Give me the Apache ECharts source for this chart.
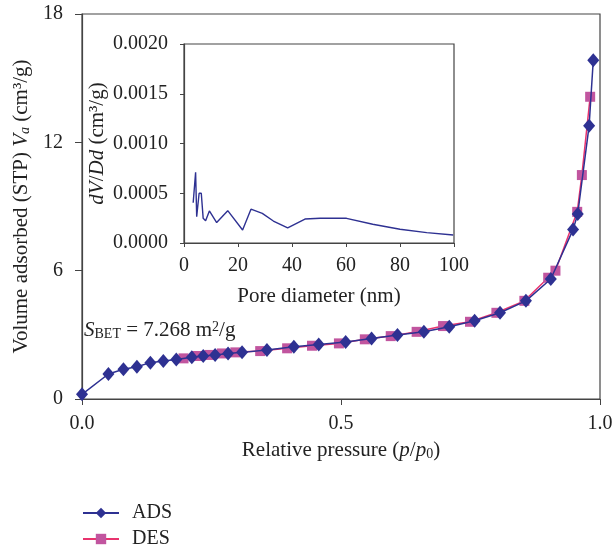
<!DOCTYPE html>
<html>
<head>
<meta charset="utf-8">
<script src="https://cdn.jsdelivr.net/npm/echarts@6/dist/echarts.min.js"></script>
<style>
  html, body { margin: 0; padding: 0; background: #fff; }
  #chart { width: 613px; height: 550px; }
</style>
</head>
<body>
<div id="chart"></div>
<script>
// adsorption branch (p/p0, Va)
var adsX = [0.0, 0.051, 0.080, 0.106, 0.132, 0.157, 0.182, 0.212, 0.234, 0.257, 0.282, 0.309, 0.357, 0.409, 0.457, 0.509, 0.559, 0.609, 0.660, 0.709, 0.758, 0.807, 0.857, 0.905, 0.948, 0.957, 0.979, 0.987];
var adsY = [0.22, 1.17, 1.39, 1.51, 1.70, 1.78, 1.85, 1.95, 2.01, 2.06, 2.13, 2.18, 2.29, 2.44, 2.55, 2.67, 2.83, 2.99, 3.14, 3.38, 3.66, 4.03, 4.59, 5.61, 7.92, 8.65, 12.78, 15.84];

// desorption branch
var desX = [0.196, 0.222, 0.246, 0.270, 0.296, 0.344, 0.396, 0.444, 0.496, 0.546, 0.596, 0.646, 0.697, 0.749, 0.800, 0.854, 0.900, 0.914, 0.956, 0.965, 0.981];
var desY = [1.90, 2.01, 2.06, 2.13, 2.18, 2.24, 2.37, 2.49, 2.60, 2.79, 2.94, 3.14, 3.41, 3.61, 4.03, 4.59, 5.67, 6.00, 8.75, 10.47, 14.13];

// pore size distribution (inset)
var poreD = [3.4, 4.3, 4.7, 5.6, 6.4, 7.1, 8.0, 9.4, 12.1, 16.2, 21.7, 24.8, 29.0, 33.1, 38.4, 44.8, 50.4, 60.2, 69.9, 80.0, 89.9, 99.7];
var dVDd = [0.000405, 0.00071, 0.000264, 0.0005, 0.0005, 0.000248, 0.000224, 0.000322, 0.000206, 0.000325, 0.000131, 0.00034, 0.000298, 0.000221, 0.000151, 0.000241, 0.000248, 0.000248, 0.000188, 0.000138, 0.000104, 0.00008];

var sBet = '7.268';

function pairs(xs, ys) {
    var out = [];
    for (var i = 0; i < xs.length; i++) out.push([xs[i], ys[i]]);
    return out;
}

var FONT = 'Liberation Serif';
var AX = '#444';
var BLUE = '#2e3192';
var PINK_LINE = '#e8336e';
var PINK_MARK = '#c1559f';
var TICK_FS = 20;
var NAME_FS = 21;

var chart = echarts.init(document.getElementById('chart'));

var axisCommon = {
    axisLine: { show: true, lineStyle: { color: AX, width: 1.2 } },
    splitLine: { show: false },
    nameTextStyle: { fontFamily: FONT, fontSize: NAME_FS, color: '#222',
        rich: {
            i: { fontFamily: FONT, fontSize: NAME_FS, fontStyle: 'italic', color: '#222' },
            sub: { fontFamily: FONT, fontSize: 14, fontStyle: 'italic', color: '#222', verticalAlign: 'bottom', padding: [6, 0, 0, 0] },
            sub0: { fontFamily: FONT, fontSize: 14, color: '#222', verticalAlign: 'bottom', padding: [6, 0, 0, 0] }
        }
    }
};

// one legend per row so they sit exactly like the reference
function legendRow(name, top) {
    return {
        orient: 'horizontal',
        left: 77,
        top: top,
        itemWidth: 36,
        itemHeight: 13,
        data: [name],
        textStyle: { fontFamily: FONT, fontSize: 20, color: '#222', padding: [0, 0, 0, 8] }
    };
}

var option = {
    animation: false,
    backgroundColor: '#fff',
    grid: [
        { left: 82, right: 13, top: 14, bottom: 151, show: true, borderColor: AX, borderWidth: 1.2, outerBoundsMode: 'none' },
        { left: 184, right: 159, top: 44, bottom: 307, show: true, borderColor: AX, borderWidth: 1.2, outerBoundsMode: 'none' }
    ],
    legend: [legendRow('ADS', 498), legendRow('DES', 524)],
    xAxis: [
        Object.assign({}, axisCommon, {
            gridIndex: 0, type: 'value', min: 0, max: 1, interval: 0.5,
            name: 'Relative pressure ({i|p}/{i|p}{sub0|0})',
            nameLocation: 'middle', nameGap: 41,
            axisTick: { show: true, inside: false, length: 6, lineStyle: { color: AX } },
            axisLabel: { fontFamily: FONT, fontSize: TICK_FS, color: '#222', margin: 15,
                formatter: function(v) { return v.toFixed(1); } }
        }),
        Object.assign({}, axisCommon, {
            gridIndex: 1, type: 'value', min: 0, max: 100, interval: 20,
            name: 'Pore diameter (nm)',
            nameLocation: 'middle', nameGap: 43,
            axisTick: { show: true, inside: false, length: 4, lineStyle: { color: AX } },
            axisLabel: { fontFamily: FONT, fontSize: TICK_FS, color: '#222', margin: 13 }
        })
    ],
    yAxis: [
        Object.assign({}, axisCommon, {
            gridIndex: 0, type: 'value', min: 0, max: 18, interval: 6,
            name: 'Volume adsorbed (STP) {i|V}{sub|a} (cm³/g)',
            nameLocation: 'middle', nameGap: 50,
            axisTick: { show: true, inside: false, length: 7, lineStyle: { color: AX } },
            axisLabel: { fontFamily: FONT, fontSize: TICK_FS, color: '#222', margin: 19 }
        }),
        Object.assign({}, axisCommon, {
            gridIndex: 1, type: 'value', min: 0, max: 0.002, interval: 0.0005,
            name: '{i|dV}/{i|Dd} (cm³/g)',
            nameLocation: 'middle', nameGap: 76,
            axisTick: { show: true, inside: false, length: 4, lineStyle: { color: AX } },
            axisLabel: { fontFamily: FONT, fontSize: TICK_FS, color: '#222', margin: 16,
                formatter: function(v) { return v.toFixed(4); } }
        })
    ],
    graphic: [
        {
            type: 'text',
            left: 84,
            top: 320,
            style: {
                text: '{i|S}{sub|BET} = ' + sBet + ' m{sup|2}/g',
                fontFamily: FONT, fontSize: 21, fill: '#222',
                rich: {
                    i: { fontFamily: FONT, fontSize: 21, fontStyle: 'italic', color: '#222' },
                    sub: { fontFamily: FONT, fontSize: 14, color: '#222', verticalAlign: 'bottom', padding: [6, 0, 0, 0] },
                    sup: { fontFamily: FONT, fontSize: 14, color: '#222', verticalAlign: 'top', padding: [0, 0, 6, 0] }
                }
            }
        }
    ],
    series: [
        {
            name: 'DES',
            type: 'line',
            xAxisIndex: 0, yAxisIndex: 0,
            data: pairs(desX, desY),
            symbol: 'rect',
            symbolSize: 10,
            lineStyle: { color: PINK_LINE, width: 1.5 },
            itemStyle: { color: PINK_MARK },
            z: 3
        },
        {
            name: 'ADS',
            type: 'line',
            xAxisIndex: 0, yAxisIndex: 0,
            data: pairs(adsX, adsY),
            symbol: 'diamond',
            symbolSize: [12, 14],
            lineStyle: { color: BLUE, width: 1.5 },
            itemStyle: { color: BLUE },
            z: 4
        },
        {
            name: 'PSD',
            type: 'line',
            xAxisIndex: 1, yAxisIndex: 1,
            data: pairs(poreD, dVDd),
            showSymbol: false,
            symbol: 'none',
            lineStyle: { color: BLUE, width: 1.4 }
        }
    ]
};

chart.setOption(option);
</script>
</body>
</html>
